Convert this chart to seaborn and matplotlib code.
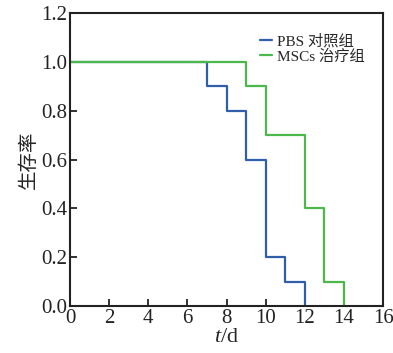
import matplotlib
matplotlib.use("Agg")
import matplotlib.pyplot as plt
import seaborn as sns
import pandas as pd

days_pbs = [0, 7, 8, 9, 10, 11, 12]
surv_pbs = [1.0, 0.9, 0.8, 0.6, 0.2, 0.1, 0.0]
days_msc = [0, 9, 10, 12, 13, 14]
surv_msc = [1.0, 0.9, 0.7, 0.4, 0.1, 0.0]
labels = ["PBS 对照组", "MSCs 治疗组"]
xticks = list(range(0, 17, 2))
yticks = [0.0, 0.2, 0.4, 0.6, 0.8, 1.0, 1.2]

sns.set_style("ticks")
plt.rcParams['font.family'] = ['Liberation Serif', 'Noto Sans CJK SC']
plt.rcParams['mathtext.fontset'] = 'custom'
plt.rcParams['mathtext.it'] = 'Liberation Serif:italic'
plt.rcParams['mathtext.rm'] = 'Liberation Serif'

df = pd.concat([
    pd.DataFrame({"t": days_pbs, "s": surv_pbs, "g": labels[0]}),
    pd.DataFrame({"t": days_msc, "s": surv_msc, "g": labels[1]}),
])

fig = plt.figure(figsize=(3.93, 3.53), dpi=100)
ax = fig.add_axes([0.178, 0.133, 0.797, 0.830])
sns.lineplot(data=df, x="t", y="s", hue="g", palette=["#2f5fa8", "#4cb84c"],
             drawstyle="steps-post", linewidth=1.6, ax=ax, estimator=None)
ax.set_xlim(0, 16)
ax.set_ylim(0, 1.2)
ax.set_xticks(xticks)
ax.set_yticks(yticks)
ax.set_yticklabels([f"{v:.1f}" for v in yticks])
ax.tick_params(direction="in", length=5, width=1.3, labelsize=15, colors="#222222", pad=2)
for sp in ax.spines.values():
    sp.set_linewidth(1.5)
    sp.set_color("#222222")
ax.set_xlabel(r"$t$/d", fontsize=16, labelpad=0)
ax.set_ylabel("生存率", fontsize=14, labelpad=2)
leg = ax.legend(frameon=False, loc="upper right", bbox_to_anchor=(0.985, 0.975),
                handlelength=0.8, handletextpad=0.3, labelspacing=0.05,
                prop={'family': ['Liberation Serif', 'Noto Sans CJK SC'], 'size': 11})
fig.savefig("out.png", dpi=100)
